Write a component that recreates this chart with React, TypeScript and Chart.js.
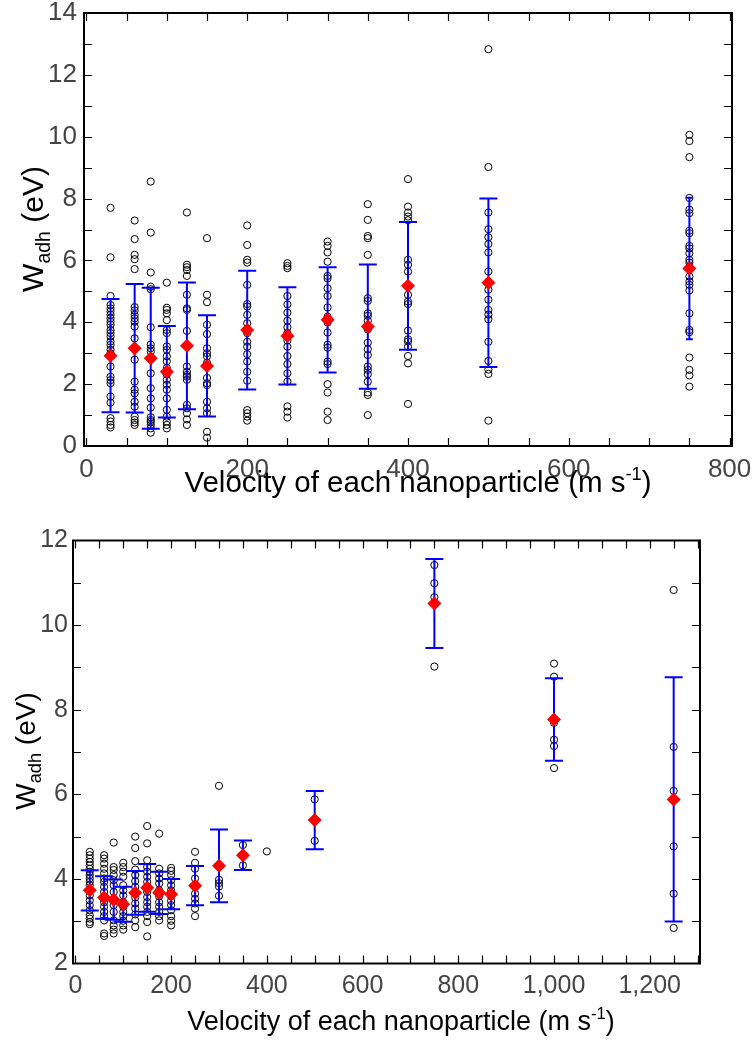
import React, { useEffect, useRef } from 'react';
import { Chart, registerables } from 'chart.js';

Chart.register(...registerables);

const FONT = '"Liberation Sans", Arial, Helvetica, sans-serif';

// ---------- Top panel data ----------
const topVelocities = [30, 60, 80, 100, 125, 150, 200, 250, 300, 350, 400, 500, 750];
const topSamples = [
  [7.7, 6.1, 4.85, 4.56, 4.45, 4.35, 4.24, 4.13, 4.02, 3.92, 3.75, 3.65, 3.54, 3.38, 3.27, 3.11, 3.0, 2.57, 2.24, 2.13, 2.03, 1.6, 1.4, 0.9, 0.79, 0.68, 0.6],
  [7.29, 6.69, 6.18, 6.04, 5.72, 4.49, 4.38, 4.24, 4.13, 4.02, 3.86, 3.48, 2.79, 2.08, 1.82, 1.7, 1.43, 1.27, 0.95, 0.84, 0.76, 0.68],
  [8.55, 6.9, 5.61, 5.15, 5.07, 3.84, 3.28, 3.16, 3.05, 2.84, 2.35, 1.87, 1.54, 1.24, 0.93, 0.84, 0.78, 0.68, 0.57, 0.43],
  [5.28, 4.47, 4.4, 4.29, 4.07, 3.75, 3.65, 3.22, 3.11, 2.9, 2.74, 2.52, 2.31, 2.14, 1.98, 1.82, 1.54, 1.17, 0.95, 0.79, 0.68, 0.57],
  [7.55, 5.86, 5.78, 5.69, 5.5, 4.89, 4.45, 4.4, 3.72, 2.57, 2.4, 2.3, 2.24, 2.14, 1.33, 1.22, 1.06, 0.86, 0.68],
  [6.72, 4.89, 4.65, 3.92, 3.62, 3.16, 3.0, 2.9, 2.69, 2.2, 2.03, 1.97, 1.43, 1.22, 1.06, 0.46, 0.27],
  [7.13, 6.5, 6.02, 5.93, 5.21, 4.59, 4.51, 4.24, 3.97, 3.65, 3.37, 3.21, 2.97, 2.73, 2.4, 2.11, 1.16, 1.06, 0.95, 0.82],
  [5.91, 5.82, 5.75, 4.85, 4.58, 4.31, 4.05, 3.84, 3.65, 3.41, 3.21, 2.91, 2.65, 2.35, 2.08, 1.28, 1.11, 0.92],
  [6.61, 6.47, 6.26, 5.96, 5.5, 5.42, 5.1, 4.85, 4.48, 4.18, 3.99, 3.67, 3.27, 3.18, 2.73, 2.65, 2.0, 1.73, 1.11, 0.84],
  [7.82, 7.31, 6.79, 6.72, 6.18, 4.78, 4.69, 4.29, 4.21, 4.05, 3.77, 3.34, 3.13, 2.94, 2.57, 2.46, 2.32, 2.08, 1.73, 1.65, 1.0],
  [8.63, 7.74, 7.55, 7.42, 7.3, 6.02, 5.86, 5.64, 4.89, 4.67, 4.59, 3.73, 3.45, 3.38, 3.21, 2.91, 2.67, 1.36],
  [12.83, 9.02, 7.55, 7.01, 6.75, 6.53, 6.26, 5.64, 5.32, 5.05, 4.73, 4.4, 4.25, 4.1, 3.37, 2.75, 2.47, 2.33, 0.82],
  [10.06, 9.86, 9.34, 8.02, 7.64, 7.53, 6.96, 6.88, 6.47, 6.39, 6.23, 6.02, 5.93, 5.8, 5.72, 5.48, 5.32, 5.21, 5.03, 4.29, 3.75, 3.68, 2.86, 2.46, 2.28, 1.92],
];
const topMeans = [2.92, 3.16, 2.84, 2.4, 3.24, 2.59, 3.75, 3.56, 4.08, 3.86, 5.18, 5.28, 5.74];
const topStds = [1.83, 2.08, 2.28, 1.48, 2.05, 1.635, 1.92, 1.575, 1.7, 2.01, 2.065, 2.725, 2.29];
const topXTicks = [0, 200, 400, 600, 800];
const topYTicks = [0, 2, 4, 6, 8, 10, 12, 14];

// ---------- Bottom panel data ----------
const bottomSampleVelocities = [30, 60, 80, 100, 125, 150, 175, 200, 250, 300, 350, 400, 500, 750, 1000, 1250];
const bottomSamples = [
  [4.64, 4.56, 4.48, 4.4, 4.32, 4.24, 4.17, 4.09, 4.01, 3.93, 3.85, 3.73, 3.61, 3.49, 3.38, 3.26, 3.14, 3.06, 2.98, 2.93],
  [4.56, 4.48, 4.36, 4.24, 4.13, 4.01, 3.93, 3.81, 3.69, 3.57, 3.45, 3.34, 3.22, 3.12, 3.02, 2.71, 2.65],
  [4.86, 4.28, 4.21, 4.09, 3.97, 3.85, 3.69, 3.53, 3.38, 3.22, 3.02, 2.9, 2.8, 2.71],
  [4.38, 4.28, 4.17, 4.05, 3.85, 3.73, 3.61, 3.45, 3.34, 3.22, 3.12, 3.01, 2.9, 2.8],
  [5.0, 4.73, 4.42, 4.22, 4.09, 3.95, 3.81, 3.67, 3.56, 3.42, 3.3, 3.16, 3.02, 2.86],
  [5.25, 4.84, 4.44, 4.28, 4.17, 4.05, 3.93, 3.81, 3.69, 3.57, 3.45, 3.34, 3.22, 3.12, 2.98, 2.64],
  [5.07, 4.24, 4.13, 4.01, 3.89, 3.73, 3.59, 3.45, 3.34, 3.22, 3.12, 3.02],
  [4.26, 4.19, 4.09, 3.97, 3.85, 3.73, 3.59, 3.48, 3.38, 3.26, 3.12, 3.01, 2.9],
  [4.64, 4.38, 4.24, 4.01, 3.81, 3.65, 3.53, 3.42, 3.3, 3.12],
  [6.2, 3.98, 3.9, 3.82, 3.6],
  [4.8, 4.32],
  [4.65],
  [5.88, 4.9],
  [11.42, 10.99, 10.66, 9.02],
  [9.09, 8.78, 7.69, 7.29, 7.14, 6.62],
  [10.83, 7.12, 6.08, 4.77, 3.65, 2.84],
];
const bottomMeanVelocities = [30, 60, 80, 100, 125, 150, 175, 200, 250, 300, 350, 500, 750, 1000, 1250];
const bottomMeans = [3.73, 3.56, 3.51, 3.4, 3.67, 3.79, 3.67, 3.64, 3.84, 4.31, 4.56, 5.39, 10.51, 7.77, 5.88];
const bottomStds = [0.475, 0.5, 0.475, 0.415, 0.515, 0.565, 0.5, 0.36, 0.465, 0.86, 0.35, 0.69, 1.05, 0.975, 2.89];
const bottomXTicks = [0, 200, 400, 600, 800, 1000, 1200];
const bottomYTicks = [2, 4, 6, 8, 10, 12];

const X_TITLE = 'Velocity of each nanoparticle (m s';
const X_TITLE_SUP = '-1';
const Y_TITLE_MAIN = 'W';
const Y_TITLE_SUB = 'adh';
const Y_TITLE_REST = ' (eV)';

type PanelCfg = {
  top: number;
  height: number;
  sampleVelocities: number[];
  samples: number[][];
  meanVelocities: number[];
  means: number[];
  stds: number[];
  capHalf: number[];
  xMin: number;
  xMax: number;
  yMin: number;
  yMax: number;
  xTicks: number[];
  yTicks: number[];
  xMinorStep: number;
  yMinorStep: number;
  area: { left: number; top: number; right: number; bottom: number };
  tickFont: number;
  xTickPad: number;
  yTickPad: number;
  xTitleSize: number;
  xTitleCx: number;
  xTitleBase: number;
  yTitleSize: number;
  yTitleCy: number;
  yTitleBase: number;
};

function makePlugin(cfg: PanelCfg) {
  return {
    id: 'panelDecor',
    beforeDatasetDraw(chart: any, args: any) {
      if (args.index !== 0) return;
      const ctx = chart.ctx;
      const xs = chart.scales.x;
      const ys = chart.scales.y;
      ctx.save();
      ctx.strokeStyle = '#0000ff';
      ctx.lineWidth = 2;
      cfg.meanVelocities.forEach((v, i) => {
        const px = xs.getPixelForValue(v);
        const hi = ys.getPixelForValue(cfg.means[i] + cfg.stds[i]);
        const lo = ys.getPixelForValue(cfg.means[i] - cfg.stds[i]);
        const hw = cfg.capHalf[i];
        ctx.beginPath();
        ctx.moveTo(px, hi);
        ctx.lineTo(px, lo);
        ctx.moveTo(px - hw, hi);
        ctx.lineTo(px + hw, hi);
        ctx.moveTo(px - hw, lo);
        ctx.lineTo(px + hw, lo);
        ctx.stroke();
      });
      ctx.restore();
    },
    afterDraw(chart: any) {
      const ctx = chart.ctx;
      const a = chart.chartArea;
      const xs = chart.scales.x;
      const ys = chart.scales.y;
      ctx.save();
      // inward ticks
      ctx.strokeStyle = '#000';
      ctx.lineWidth = 1.2;
      const tl = 8;
      ctx.beginPath();
      for (let v = Math.ceil(cfg.xMin / cfg.xMinorStep) * cfg.xMinorStep; v <= cfg.xMax; v += cfg.xMinorStep) {
        const px = Math.round(xs.getPixelForValue(v)) + 0.5;
        if (px <= a.left + 1 || px >= a.right - 1) continue;
        ctx.moveTo(px, a.bottom);
        ctx.lineTo(px, a.bottom - tl);
        ctx.moveTo(px, a.top);
        ctx.lineTo(px, a.top + tl);
      }
      for (let v = cfg.yMin; v <= cfg.yMax; v += cfg.yMinorStep) {
        const py = Math.round(ys.getPixelForValue(v)) + 0.5;
        if (py <= a.top + 1 || py >= a.bottom - 1) continue;
        ctx.moveTo(a.left, py);
        ctx.lineTo(a.left + tl, py);
        ctx.moveTo(a.right, py);
        ctx.lineTo(a.right - tl, py);
      }
      ctx.stroke();
      // frame
      ctx.lineWidth = 2;
      ctx.strokeRect(a.left, a.top, a.right - a.left, a.bottom - a.top);

      // x title
      ctx.fillStyle = '#000';
      ctx.textBaseline = 'alphabetic';
      ctx.textAlign = 'left';
      const fs = cfg.xTitleSize;
      const sfs = fs * 0.62;
      ctx.font = `${fs}px ${FONT}`;
      const w1 = ctx.measureText(X_TITLE).width;
      const w3 = ctx.measureText(')').width;
      ctx.font = `${sfs}px ${FONT}`;
      const w2 = ctx.measureText(X_TITLE_SUP).width;
      const x0 = cfg.xTitleCx - (w1 + w2 + w3) / 2;
      ctx.font = `${fs}px ${FONT}`;
      ctx.fillText(X_TITLE, x0, cfg.xTitleBase);
      ctx.font = `${sfs}px ${FONT}`;
      ctx.fillText(X_TITLE_SUP, x0 + w1, cfg.xTitleBase - fs * 0.4);
      ctx.font = `${fs}px ${FONT}`;
      ctx.fillText(')', x0 + w1 + w2, cfg.xTitleBase);

      // y title (rotated)
      const yf = cfg.yTitleSize;
      const ysf = yf * 0.65;
      ctx.font = `${yf}px ${FONT}`;
      const a1 = ctx.measureText(Y_TITLE_MAIN).width;
      const a3 = ctx.measureText(Y_TITLE_REST).width;
      ctx.font = `${ysf}px ${FONT}`;
      const a2 = ctx.measureText(Y_TITLE_SUB).width;
      const total = a1 + a2 + a3;
      ctx.translate(cfg.yTitleBase, cfg.yTitleCy);
      ctx.rotate(-Math.PI / 2);
      const sx = -total / 2;
      ctx.font = `${yf}px ${FONT}`;
      ctx.fillText(Y_TITLE_MAIN, sx, 0);
      ctx.font = `${ysf}px ${FONT}`;
      ctx.fillText(Y_TITLE_SUB, sx + a1, yf * 0.22);
      ctx.font = `${yf}px ${FONT}`;
      ctx.fillText(Y_TITLE_REST, sx + a1 + a2, 0);
      ctx.restore();
    },
  };
}

function Panel({ cfg }: { cfg: PanelCfg }) {
  const ref = useRef<HTMLCanvasElement>(null);
  useEffect(() => {
    if (!ref.current) return;
    const circles = cfg.sampleVelocities.flatMap((v, i) => cfg.samples[i].map((y) => ({ x: v, y })));
    const meanPts = cfg.meanVelocities.map((v, i) => ({ x: v, y: cfg.means[i] }));
    const W = 755;
    const chart = new Chart(ref.current, {
      type: 'scatter',
      data: {
        datasets: [
          {
            data: meanPts,
            pointStyle: 'rectRot',
            pointRadius: 7,
            backgroundColor: '#ff0000',
            borderColor: '#ff0000',
            borderWidth: 0,
          },
          {
            data: circles,
            pointStyle: 'circle',
            pointRadius: 3.6,
            backgroundColor: 'rgba(0,0,0,0)',
            borderColor: '#000',
            borderWidth: 1,
          },
        ],
      },
      options: {
        animation: false,
        responsive: false,
        events: [],
        layout: {
          padding: { left: 0, top: cfg.area.top, right: W - cfg.area.right, bottom: 0 },
        },
        plugins: { legend: { display: false }, tooltip: { enabled: false } },
        scales: {
          x: {
            type: 'linear',
            min: cfg.xMin,
            max: cfg.xMax,
            afterBuildTicks: (s: any) => {
              s.ticks = cfg.xTicks.map((v) => ({ value: v }));
            },
            afterFit: (s: any) => {
              s.height = cfg.height - cfg.area.bottom;
              s.paddingLeft = 0;
              s.paddingRight = 0;
            },
            grid: { display: false, drawTicks: false },
            border: { display: false },
            ticks: {
              font: { family: FONT, size: cfg.tickFont },
              color: '#444',
              padding: cfg.xTickPad,
              maxRotation: 0,
              autoSkip: false,
              callback: (v: any) => Number(v).toLocaleString('en-US'),
            },
          },
          y: {
            type: 'linear',
            min: cfg.yMin,
            max: cfg.yMax,
            afterBuildTicks: (s: any) => {
              s.ticks = cfg.yTicks.map((v) => ({ value: v }));
            },
            afterFit: (s: any) => {
              s.width = cfg.area.left;
              s.paddingTop = 0;
              s.paddingBottom = 0;
            },
            grid: { display: false, drawTicks: false },
            border: { display: false },
            ticks: {
              font: { family: FONT, size: cfg.tickFont },
              color: '#444',
              padding: cfg.yTickPad,
              autoSkip: false,
              callback: (v: any) => String(v),
            },
          },
        },
      },
      plugins: [makePlugin(cfg)],
    } as any);
    return () => chart.destroy();
  }, [cfg]);
  return (
    <canvas
      ref={ref}
      width={755}
      height={cfg.height}
      style={{ position: 'absolute', left: 0, top: cfg.top, width: 755, height: cfg.height }}
    />
  );
}

const topCfg: PanelCfg = {
  top: 0,
  height: 520,
  sampleVelocities: topVelocities,
  samples: topSamples,
  meanVelocities: topVelocities,
  means: topMeans,
  stds: topStds,
  capHalf: [9, 9, 9, 9, 9, 9, 9, 9, 9, 9, 9, 9, 3.5],
  xMin: -3,
  xMax: 803,
  yMin: 0,
  yMax: 14,
  xTicks: topXTicks,
  yTicks: topYTicks,
  xMinorStep: 50,
  yMinorStep: 1,
  area: { left: 84, top: 13, right: 732, bottom: 446 },
  tickFont: 26,
  xTickPad: 8,
  yTickPad: 7,
  xTitleSize: 29.5,
  xTitleCx: 418,
  xTitleBase: 492,
  yTitleSize: 30,
  yTitleCy: 229,
  yTitleBase: 43,
};

const bottomCfg: PanelCfg = {
  top: 520,
  height: 520,
  sampleVelocities: bottomSampleVelocities,
  samples: bottomSamples,
  meanVelocities: bottomMeanVelocities,
  means: bottomMeans,
  stds: bottomStds,
  capHalf: bottomMeanVelocities.map(() => 9),
  xMin: -5,
  xMax: 1305,
  yMin: 2,
  yMax: 12,
  xTicks: bottomXTicks,
  yTicks: bottomYTicks,
  xMinorStep: 50,
  yMinorStep: 1,
  area: { left: 73, top: 20.5, right: 700, bottom: 443.5 },
  tickFont: 25,
  xTickPad: 8,
  yTickPad: 5,
  xTitleSize: 27,
  xTitleCx: 401,
  xTitleBase: 510,
  yTitleSize: 28,
  yTitleCy: 231,
  yTitleBase: 35,
};

export default function App() {
  return (
    <div style={{ position: 'fixed', left: 0, top: 0, width: 755, height: 1040, background: '#fff' }}>
      <Panel cfg={topCfg} />
      <Panel cfg={bottomCfg} />
    </div>
  );
}
